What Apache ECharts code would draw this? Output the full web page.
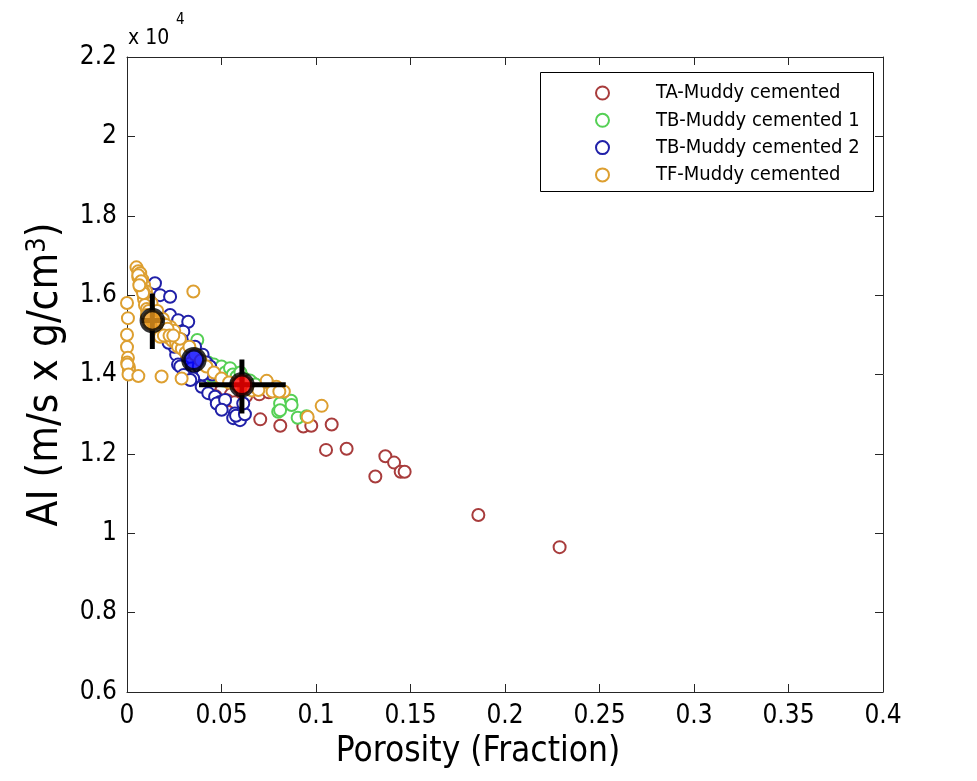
<!DOCTYPE html>
<html>
<head>
<meta charset="utf-8">
<script src="https://cdn.jsdelivr.net/npm/echarts@6/dist/echarts.min.js"></script>
<style>
html,body{margin:0;padding:0;background:#fff;}
#chart{width:977px;height:781px;}
</style>
</head>
<body>
<div id="chart"></div>
<script>
// ---- Data (x = porosity fraction, y = acoustic impedance AI) ----
const seriesNames = ['TA-Muddy cemented', 'TB-Muddy cemented 1', 'TB-Muddy cemented 2', 'TF-Muddy cemented'];

const taData = [
  [0.030,14450],[0.034,14300],[0.038,14200],[0.040,14100],[0.042,14300],[0.044,14000],[0.046,14150],
  [0.048,13900],[0.050,14000],[0.052,13800],[0.054,13950],[0.056,13700],[0.058,13850],[0.060,13600],
  [0.062,13900],[0.064,13700],[0.066,13800],[0.068,13600],[0.070,13500],[0.044,13700],[0.050,13600],
  [0.055,13500],[0.036,14000],[0.040,13800],[0.047,13450],[0.053,13350],[0.057,13300],[0.063,13450],
  [0.072,13650],[0.075,13550],[0.0705,12870],[0.0811,12710],[0.0933,12690],[0.0975,12710],[0.1083,12740],
  [0.1053,12100],[0.1162,12130],[0.1314,11430],[0.1367,11940],[0.1413,11780],[0.1448,11550],[0.1469,11550],
  [0.1859,10460],[0.2289,9650]
];

const tb1Data = [
  [0.024,14850],[0.028,14700],[0.0372,14870],[0.0265,14620],[0.033,14550],[0.036,14450],[0.040,14400],
  [0.043,14300],[0.046,14250],[0.048,14100],[0.050,14200],[0.052,14050],[0.0545,14160],[0.056,14000],
  [0.058,13950],[0.060,14050],[0.062,13900],[0.065,13850],[0.068,13750],[0.045,13950],[0.051,13850],
  [0.080,13060],[0.081,13270],[0.081,13100],[0.0868,13340],[0.0871,13230],[0.0903,12910],[0.095,12950]
];

const tb2Data = [
  [0.0148,16300],[0.0175,16000],[0.0228,15960],[0.0228,15500],[0.0271,15370],[0.0324,15330],[0.0298,15080],
  [0.029,14870],[0.030,14600],[0.033,14500],[0.036,14550],[0.038,14400],[0.040,14500],[0.032,14300],
  [0.028,14400],[0.030,14200],[0.034,14150],[0.038,14200],[0.042,14300],[0.026,14500],[0.036,14700],
  [0.025,14700],[0.022,14800],[0.044,14200],[0.045,14000],[0.040,14000],[0.031,14000],[0.027,14250],
  [0.035,13900],[0.0282,14200],[0.030,13990],[0.0335,13860],
  [0.0395,13690],[0.0430,13530],[0.0466,13440],[0.0492,13310],[0.0475,13270],[0.0519,13360],[0.0501,13110],
  [0.0571,13020],[0.0615,12980],[0.0562,12900],[0.0598,12850],[0.0577,12960],[0.0624,13000],[0.0615,13270]
];

const tfData = [
  [0.000,15800],[0.0005,15420],[0.000,15000],[0.000,14690],[0.0005,14420],[0.001,14190],[0.0015,14040],[0.001,14100],
  [0.005,16700],[0.006,16600],[0.007,16550],[0.006,16450],[0.008,16400],[0.007,16300],[0.009,16250],[0.008,16150],
  [0.010,16100],[0.009,16000],[0.011,15950],[0.010,15850],[0.012,15800],[0.011,15700],[0.013,15650],[0.012,15550],
  [0.014,15500],[0.015,15400],[0.016,15350],[0.017,15250],[0.018,15200],[0.019,15150],[0.020,15100],[0.022,15050],
  [0.021,14950],[0.023,14900],[0.024,14850],[0.026,14800],[0.027,14700],[0.029,14650],[0.031,14550],
  [0.007,16200],[0.009,15900],[0.013,15800],[0.011,15450],[0.016,15600],[0.019,15400],[0.023,15200],[0.025,15100],
  [0.028,14900],[0.033,14700],[0.036,14500],[0.039,14350],[0.042,14200],[0.046,14050],[0.050,13900],[0.054,13800],
  [0.058,13750],[0.062,13650],[0.066,13600],
  [0.006,16500],[0.0075,16350],[0.0085,16100],[0.0095,15750],[0.0105,15650],[0.0115,15600],[0.0125,15450],
  [0.0135,15350],[0.0145,15250],[0.0155,15150],[0.0165,15050],[0.0175,14950],[0.0085,16050],[0.0065,16250],
  [0.0105,15500],[0.0185,15300],[0.0205,15250],[0.0215,15150],[0.0195,14980],[0.0225,14980],[0.0245,14980],
  [0.0001,14300],[0.0002,14250],[0.0008,14000],
  [0.0351,16090],[0.006,13960],[0.0183,13950],[0.0289,13900],[0.0695,13610],[0.074,13820],[0.079,13690],
  [0.083,13570],[0.0739,13840],[0.077,13570],[0.0806,13570],[0.0956,12930],[0.103,13210]
];

// group means (TA, TB2, TF) and their error bars
const meanPoints = [[0.0608,13740],[0.0354,14370],[0.0134,15360]];
const errXRange = [[0.0381,0.0840], null, [0.0078,0.0192]];
const errYRange = [[13020,14380], null, [14640,16040]];

// axis ticks
const xTicks = { min: 0, max: 0.4, interval: 0.05 };
const yTicks = { min: 6000, max: 22000, interval: 2000 };

// ---- Styles ----
const FONT = "'DejaVu Sans Condensed', 'DejaVu Sans', sans-serif";
const scatterColors = ['#a83c3c', '#55d055', '#2020a8', '#dd9f30'];
const meanColors = ['#ff0000', '#0000ff', '#ee9a1e'];

const chart = echarts.init(document.getElementById('chart'), null, {renderer: 'canvas'});

const series = [];
[taData, tb1Data, tb2Data, tfData].forEach((d, i) => {
  series.push({
    name: seriesNames[i],
    type: 'scatter',
    data: d,
    symbol: 'emptyCircle',
    symbolSize: 12,
    itemStyle: { color: scatterColors[i], borderColor: scatterColors[i], borderWidth: 1.2, opacity: 1 },
    emphasis: { disabled: true },
    z: 2
  });
});

meanPoints.forEach((m, i) => {
  if (errXRange[i]) {
    series.push({
      type: 'line', data: [[errXRange[i][0], m[1]], [errXRange[i][1], m[1]]],
      symbol: 'none', lineStyle: { color: '#000', width: 5 }, z: 3, silent: true
    });
  }
  if (errYRange[i]) {
    series.push({
      type: 'line', data: [[m[0], errYRange[i][0]], [m[0], errYRange[i][1]]],
      symbol: 'none', lineStyle: { color: '#000', width: 5 }, z: 3, silent: true
    });
  }
});
meanPoints.forEach((m, i) => {
  series.push({
    type: 'scatter', data: [m], symbol: 'circle', symbolSize: 21,
    itemStyle: { color: meanColors[i], borderColor: '#000', borderWidth: 4.5 },
    z: 4, silent: true
  });
});

function tick() { return { show: true, inside: true, length: 8, lineStyle: { color: '#262626', width: 1 } }; }
function line() { return { show: true, onZero: false, lineStyle: { color: '#262626', width: 1 } }; }

const option = {
  backgroundColor: '#ffffff',
  animation: false,
  grid: { left: 127, right: 94, top: 57, bottom: 89, containLabel: false },
  xAxis: [
    {
      type: 'value', min: xTicks.min, max: xTicks.max, interval: xTicks.interval,
      axisLine: line(), axisTick: tick(), splitLine: { show: false },
      axisLabel: { color: '#000', fontSize: 26, fontFamily: FONT, margin: 11 },
      name: 'Porosity (Fraction)', nameLocation: 'middle', nameGap: 42,
      nameTextStyle: { color: '#000', fontSize: 35, fontFamily: FONT, padding: [0, 54, 0, 0] }
    },
    {
      type: 'value', position: 'top', min: xTicks.min, max: xTicks.max, interval: xTicks.interval,
      axisLine: line(), axisTick: tick(),
      axisLabel: { show: false }, splitLine: { show: false }
    }
  ],
  yAxis: [
    {
      type: 'value', position: 'left', min: yTicks.min, max: yTicks.max, interval: yTicks.interval,
      axisLine: line(), axisTick: tick(),
      splitLine: { show: false },
      axisLabel: {
        color: '#000', fontSize: 26, fontFamily: FONT, margin: 10,
        formatter: v => String(Math.round(v / 1000) / 10)
      },
      name: 'AI (m/s x g/cm{sup|3})', nameLocation: 'middle', nameGap: 58, nameRotate: 90,
      nameTextStyle: {
        color: '#000', fontSize: 42, fontFamily: FONT,
        rich: { sup: { fontSize: 27, fontFamily: FONT, color: '#000', verticalAlign: 'top', padding: [0, 0, 18, 0] } }
      }
    },
    {
      type: 'value', position: 'right', min: yTicks.min, max: yTicks.max, interval: yTicks.interval,
      axisLine: line(), axisTick: tick(),
      axisLabel: { show: false }, splitLine: { show: false }
    }
  ],
  legend: {
    data: seriesNames,
    orient: 'vertical',
    left: 595, top: 83,
    padding: 0,
    itemWidth: 13, itemHeight: 13, itemGap: 7.3,
    icon: 'emptyCircle',
    selectedMode: false,
    formatter: name => '{s|}' + '{t|' + name + '}',
    textStyle: {
      color: '#000', fontFamily: FONT, fontSize: 20,
      rich: {
        s: { width: 42, height: 20 },
        t: { fontSize: 20, fontFamily: FONT, color: '#000', lineHeight: 20 }
      }
    },
    z: 10
  },
  graphic: [
    { type: 'rect', shape: { x: 540.5, y: 72.5, width: 333, height: 119 },
      style: { fill: '#fff', stroke: '#000', lineWidth: 1 }, z: 5, silent: true },
    { type: 'text', x: 128, y: 28, style: { text: 'x 10', fontSize: 21, fontFamily: FONT, fill: '#000', verticalAlign: 'top' }, silent: true },
    { type: 'text', x: 176, y: 13, style: { text: '4', fontSize: 15, fontFamily: FONT, fill: '#000', verticalAlign: 'top' }, silent: true }
  ],
  series: series
};
chart.setOption(option);
</script>
</body>
</html>
